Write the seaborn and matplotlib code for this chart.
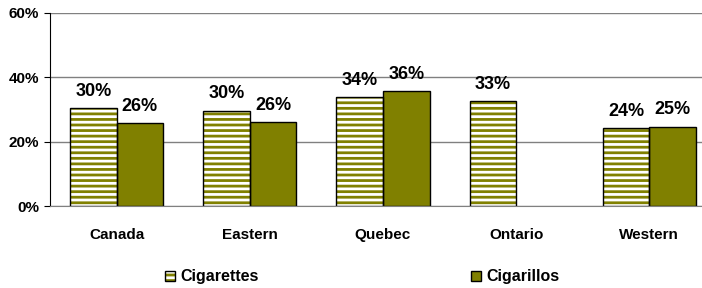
import pandas as pd
import matplotlib
matplotlib.use("Agg")
import matplotlib.pyplot as plt
from matplotlib.patches import Rectangle, Patch
from matplotlib.legend_handler import HandlerTuple
import seaborn as sns
import numpy as np

# data (percent)
regions = ["Canada", "Eastern", "Quebec", "Ontario", "Western"]
cigarettes = [30.4, 29.6, 33.8, 32.6, 24.2]
cigarillos = [25.7, 26.1, 35.8, np.nan, 24.7]
products = ["Cigarettes", "Cigarillos"]
y_ticks = [0, 20, 40, 60]

OLIVE = "#808000"

sns.set_style("white")
plt.rcParams['font.family'] = ['Liberation Sans', 'DejaVu Sans']
plt.rcParams['font.weight'] = 'bold'
plt.rcParams['text.color'] = 'black'
plt.rcParams['xtick.color'] = 'black'
plt.rcParams['ytick.color'] = 'black'
plt.rcParams['xtick.labelcolor'] = 'black'
plt.rcParams['ytick.labelcolor'] = 'black'
plt.rcParams['hatch.linewidth'] = 2.0

df = pd.DataFrame({
    "region": regions * 2,
    "product": [products[0]] * len(regions) + [products[1]] * len(regions),
    "pct": cigarettes + cigarillos,
})

fig = plt.figure(figsize=(7.02, 2.88), dpi=100)
ax = fig.add_axes([50 / 702, 1 - 206 / 288, 652 / 702, 193 / 288])

sns.barplot(data=df, x="region", y="pct", hue="product", hue_order=products,
            palette={"Cigarettes": "white", "Cigarillos": OLIVE}, saturation=1,
            width=0.7, edgecolor="black", linewidth=1, legend=False, ax=ax)

# striped cigarettes bars: olive hatch, black outline drawn on top
for bar in ax.containers[0]:
    bar.set_edgecolor(OLIVE)
    bar.set_linewidth(0)
    bar.set_hatch("---")
    ax.add_patch(Rectangle(bar.get_xy(), bar.get_width(), bar.get_height(),
                           fill=False, edgecolor="black", linewidth=1, zorder=bar.get_zorder() + 0.1))

for cont in ax.containers:
    ax.bar_label(cont, labels=[f"{v:.0f}%" if np.isfinite(v) else "" for v in cont.datavalues],
                 padding=6, fontsize=13, fontweight="bold", color="black")

ax.set_ylim(0, 60)
ax.set_xlim(-0.5, 4.395)
ax.set_yticks(y_ticks)
ax.set_yticklabels([f"{t}%" for t in y_ticks], fontsize=11, fontweight="bold")
ax.set_xticks(range(len(regions)))
ax.set_xticklabels(regions, fontsize=11, fontweight="bold")
ax.set_xticks(np.arange(-0.5, len(regions) - 1, 1.0), minor=True)
ax.tick_params(axis="x", which="major", length=0, pad=16)
ax.tick_params(axis="x", which="minor", length=4, color="#808080", direction="out")
ax.tick_params(axis="y", length=4, color="black", direction="out", pad=4, left=True)
ax.set_xlabel("")
ax.set_ylabel("")

ax.yaxis.grid(True, color="#808080", linewidth=1)
ax.set_axisbelow(True)
ax.spines["left"].set_color("black")
ax.spines["bottom"].set_color("#808080")
ax.spines["top"].set_visible(False)
ax.spines["right"].set_visible(False)

# legend
h_cig_fill = Patch(facecolor="white", edgecolor=OLIVE, hatch="---", linewidth=0)
h_cig_edge = Patch(fill=False, edgecolor="black", linewidth=1)
h_cgl = Patch(facecolor=OLIVE, edgecolor="black", linewidth=1)
fig.legend([(h_cig_fill, h_cig_edge), h_cgl], products,
           handler_map={tuple: HandlerTuple(ndivide=1, pad=0)},
           loc="center", bbox_to_anchor=(362 / 702, 1 - 277 / 288), ncol=2,
           frameon=False, prop={"size": 11.5, "weight": "bold"}, labelcolor="black",
           handlelength=0.65, handleheight=0.65, handletextpad=0.3, columnspacing=13.3)

fig.savefig("out.png", dpi=100)
